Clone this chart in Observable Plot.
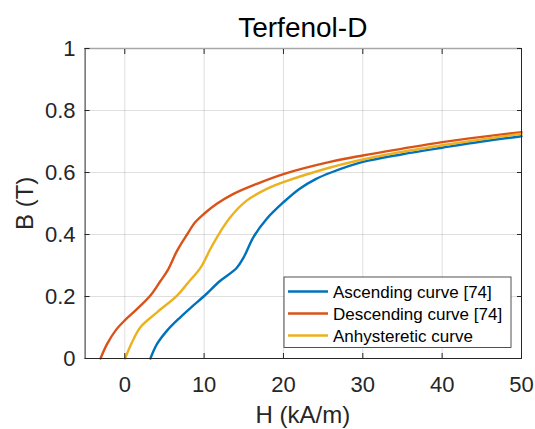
<!DOCTYPE html>
<html>
<head>
<meta charset="utf-8">
<script src="https://cdn.jsdelivr.net/npm/d3@7"></script>
<script src="https://cdn.jsdelivr.net/npm/@observablehq/plot@0.6"></script>
<style>
  html, body { margin: 0; padding: 0; background: #ffffff; }
  #chart { width: 535px; height: 429px; }
</style>
</head>
<body>
<div id="chart"></div>
<script>
// ---- data ----
const titleText = "Terfenol-D";
const xLabel = "H (kA/m)";
const yLabel = "B (T)";
const seriesNames = ["Ascending curve [74]", "Descending curve [74]", "Anhysteretic curve"];
const seriesColors = ["#0072BD", "#D95319", "#EDB120"];

const xTicks = [0, 10, 20, 30, 40, 50];
const yTicks = [0, 0.2, 0.4, 0.6, 0.8, 1];

const H_asc = [3.23, 4.07, 5.33, 7.0, 8.5, 9.94, 12.0, 14.1, 15.0, 16.2, 17.9, 20.0, 22.0, 24.0, 26.0, 30.0, 35.0, 40.0, 45.0, 50.0];
const B_asc = [0, 0.047, 0.090, 0.133, 0.168, 0.200, 0.250, 0.292, 0.327, 0.391, 0.451, 0.504, 0.547, 0.578, 0.600, 0.634, 0.659, 0.680, 0.700, 0.717];

const H_desc = [-3.06, -2.22, -1.17, 0.0, 1.56, 3.23, 4.5, 5.4, 6.6, 7.85, 8.9, 10.0, 11.6, 13.7, 16.6, 20.0, 26.0, 30.0, 35.0, 40.0, 45.0, 50.0];
const B_desc = [0, 0.047, 0.090, 0.123, 0.160, 0.203, 0.250, 0.284, 0.348, 0.400, 0.440, 0.467, 0.499, 0.531, 0.563, 0.595, 0.635, 0.655, 0.677, 0.698, 0.715, 0.730];

const H_anh = [0.04, 0.93, 1.97, 4.07, 6.59, 8.0, 9.6, 10.8, 12.0, 13.3, 15.4, 17.9, 20.0, 26.0, 30.0, 35.0, 40.0, 45.0, 50.0];
const B_anh = [0, 0.053, 0.101, 0.149, 0.203, 0.245, 0.295, 0.354, 0.407, 0.456, 0.510, 0.547, 0.569, 0.617, 0.642, 0.667, 0.688, 0.707, 0.725];

// ---- build tables ----
const toRows = (H, B) => H.map((h, i) => ({H: h, B: B[i]}));
const asc = toRows(H_asc, B_asc);
const desc = toRows(H_desc, B_desc);
const anh = toRows(H_anh, B_anh);

const FONT = "Arial, 'Liberation Sans', Helvetica, sans-serif";
const INK = "#262626";
const fmtY = d => String(+d.toFixed(1));

const W = 535, Hh = 429;
const mL = 84.6, mR = 14, mT = 48, mB = 71;
const LW = 2.4;

const chart = Plot.plot({
  width: W,
  height: Hh,
  marginLeft: mL,
  marginRight: mR,
  marginTop: mT,
  marginBottom: mB,
  style: {fontFamily: FONT, fontSize: "22px", color: INK, background: "#ffffff", overflow: "visible"},
  x: {domain: [-5, 50], axis: null},
  y: {domain: [0, 1], axis: null},
  marks: [
    Plot.gridX(xTicks, {stroke: INK, strokeOpacity: 0.15}),
    Plot.gridY(yTicks, {stroke: INK, strokeOpacity: 0.15}),
    Plot.line(asc, {x: "H", y: "B", stroke: seriesColors[0], strokeWidth: LW, curve: "catmull-rom"}),
    Plot.line(desc, {x: "H", y: "B", stroke: seriesColors[1], strokeWidth: LW, curve: "catmull-rom"}),
    Plot.line(anh, {x: "H", y: "B", stroke: seriesColors[2], strokeWidth: LW, curve: "catmull-rom"}),
    Plot.ruleY([1], {stroke: "#a6a6a6", strokeWidth: 1.5}),
    Plot.ruleY([0], {stroke: INK}),
    Plot.ruleX([-5], {stroke: INK}),
    Plot.ruleX([50], {stroke: INK}),
    Plot.axisX(xTicks, {anchor: "bottom", tickSize: 0, tickPadding: 18, tickFormat: d => String(d), label: null, fill: INK, fontSize: 22}),
    Plot.axisX(xTicks, {anchor: "bottom", tickSize: -5, tickFormat: () => "", label: null, stroke: INK}),
    Plot.axisX(xTicks, {anchor: "top", tickSize: -5, tickFormat: () => "", label: null, stroke: INK}),
    Plot.axisY(yTicks, {anchor: "left", tickSize: 0, tickPadding: 9.5, tickFormat: fmtY, label: null, fill: INK, fontSize: 22}),
    Plot.axisY(yTicks, {anchor: "left", tickSize: -5, tickFormat: () => "", label: null, stroke: INK}),
    Plot.axisY(yTicks, {anchor: "right", tickSize: -5, tickFormat: () => "", label: null, stroke: INK})
  ]
});

document.getElementById("chart").appendChild(chart);

// ---- texts and legend ----
const svg = d3.select(chart);
const cx = (mL + (W - mR)) / 2;

svg.append("text")
  .attr("x", cx).attr("y", 37)
  .attr("text-anchor", "middle")
  .attr("font-family", FONT).attr("font-size", 28)
  .attr("fill", "#000000")
  .text(titleText);

svg.append("text")
  .attr("x", cx).attr("y", 423)
  .attr("text-anchor", "middle")
  .attr("font-family", FONT).attr("font-size", 24)
  .attr("fill", INK)
  .text(xLabel);

svg.append("text")
  .attr("transform", "translate(33.3,203.3) rotate(-90)")
  .attr("text-anchor", "middle")
  .attr("font-family", FONT).attr("font-size", 24)
  .attr("fill", INK)
  .text(yLabel);

const lg = svg.append("g");
lg.append("rect")
  .attr("x", 284).attr("y", 277).attr("width", 227).attr("height", 70.5)
  .attr("fill", "#ffffff").attr("stroke", INK).attr("stroke-width", 0.8);
seriesNames.forEach((name, i) => {
  const yy = 291.5 + i * 22;
  lg.append("line")
    .attr("x1", 288).attr("x2", 328).attr("y1", yy).attr("y2", yy)
    .attr("stroke", seriesColors[i]).attr("stroke-width", LW);
  lg.append("text")
    .attr("x", 333).attr("y", yy + 6)
    .attr("text-anchor", "start")
    .attr("font-family", FONT).attr("font-size", 17)
    .attr("fill", "#000000")
    .text(name);
});
</script>
</body>
</html>
